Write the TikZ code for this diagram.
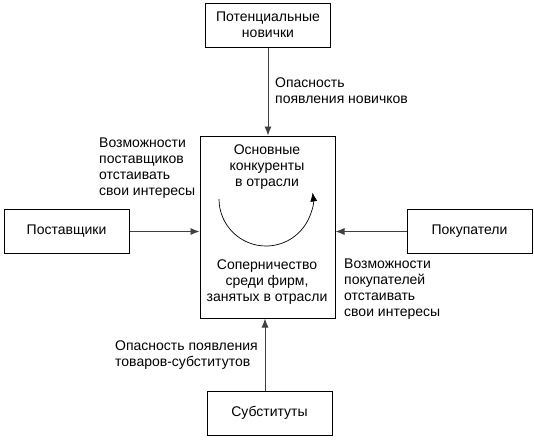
\documentclass[tikz,border=0pt]{standalone}
\usepackage{fontspec}
\setmainfont{Liberation Sans}
\usetikzlibrary{arrows.meta}

\begin{document}
\begin{tikzpicture}[x=1pt, y=-1pt, >={Latex[length=9pt,width=7pt]},
  box/.style={draw, line width=1pt, minimum width=125pt, minimum height=44pt,
    align=center, inner sep=0pt, font=\fontsize{14}{15.8}\selectfont},
  note/.style={align=left, inner sep=0pt, anchor=north west,
    font=\fontsize{14}{15.8}\selectfont},
  inbox/.style={align=center, inner sep=0pt, anchor=north,
    font=\fontsize{14}{15.8}\selectfont},
  flow/.style={->, line width=0.9pt, draw=black!75, fill=black}]

  \useasboundingbox (0,0) rectangle (534,439);

  %% boxes
  \node[box] (novice) at (268,25) {Потенциальные\\новички};
  \node[draw, line width=1pt, minimum width=135pt, minimum height=182pt,
    inner sep=0pt] (rivals) at (267.5,227) {};
  \node[box] (suppl) at (66.5,231.5) {Поставщики};
  \node[box] (buyer) at (469.5,231.5) {Покупатели};
  \node[box] (subst) at (269.5,413) {Субституты};

  %% text inside the centre box
  \node[inbox] (core) at (267,145) {Основные\\конкуренты\\в отрасли};
  \node[inbox] (rivalry) at (267,260) {Соперничество\\среди фирм,\\занятых в отрасли};

  %% rivalry circle
  \draw[->, line width=0.7pt] (219,199) arc (180:-8:47);

  %% forces
  \draw[flow] (novice.south) -- (novice.south |- rivals.north);
  \draw[flow] (suppl) -- (rivals.west |- suppl);
  \draw[flow] (buyer) -- (rivals.east |- buyer);
  \draw[flow] (subst.north -| 265,0) -- (rivals.south -| 265,0);

  %% labels
  \node[note] (threatnew) at (275,78) {Опасность\\появления новичков};
  \node[note] (powsuppl) at (99,138) {Возможности\\поставщиков\\отстаивать\\свои интересы};
  \node[note] (powbuyer) at (344,259) {Возможности\\покупателей\\отстаивать\\свои интересы};
  \node[note] (threatsub) at (115,341) {Опасность появления\\товаров-субститутов};

\end{tikzpicture}
\end{document}
